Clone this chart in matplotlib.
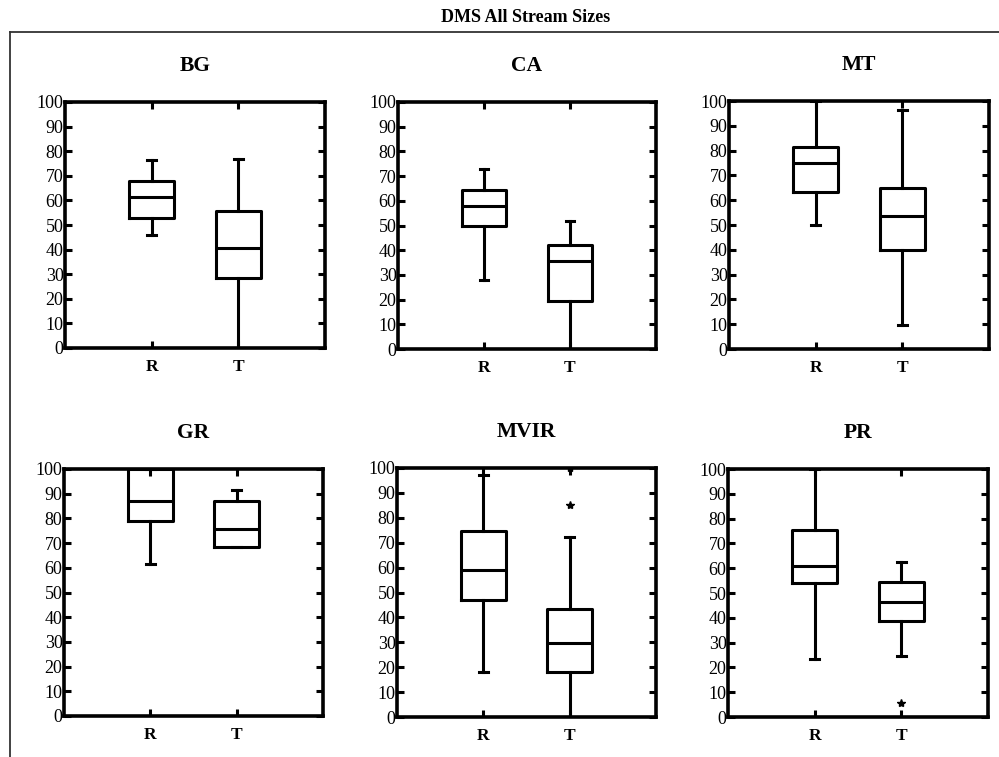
import matplotlib
matplotlib.use("Agg")
import matplotlib.pyplot as plt
from matplotlib.lines import Line2D

plt.rcParams['font.family'] = ['Liberation Serif', 'DejaVu Serif']

W, H = 999, 757

# data (percent)
sites = ['BG', 'CA', 'MT', 'GR', 'MVIR', 'PR']
groups = ['R', 'T']

# [whislo, q1, med, q3, whishi] for R and T
bg_stats = [[46, 53, 61.5, 68, 76.5], [0, 28.5, 40.7, 55.5, 77]]
ca_stats = [[28, 49.6, 57.8, 64.2, 72.8], [0, 19.3, 35.5, 42.2, 51.8]]
mt_stats = [[50, 63.2, 74.8, 81.5, 100], [9.5, 39.8, 53.5, 65, 96.2]]
gr_stats = [[61.5, 79, 87, 100, 100], [68.4, 68.6, 75.8, 87.2, 91.5]]
mvir_stats = [[18, 47, 59.2, 74.5, 97], [0, 18, 29.8, 43.4, 72.2]]
pr_stats = [[23.3, 54, 60.8, 75.3, 100], [24.5, 38.6, 46.5, 54.4, 62.5]]

mt_fliers = [[], [0]]
mvir_fliers = [[], [85, 100]]
pr_fliers = [[], [5.5]]
no_fliers = [[], []]

all_stats = [bg_stats, ca_stats, mt_stats, gr_stats, mvir_stats, pr_stats]
all_fliers = [no_fliers, no_fliers, mt_fliers, no_fliers, mvir_fliers, pr_fliers]
yticks = list(range(0, 101, 10))

# axes boxes in pixels: x0, x1, ytop, ybottom
boxes = [(65, 325, 102, 348), (398, 656, 102, 349), (729, 989, 101, 349),
         (64, 323, 469, 716), (397, 656, 468, 717), (728, 988, 469, 717)]

fig = plt.figure(figsize=(W / 100, H / 100), dpi=100)

fig.text(526 / W, 1 - 17 / H, 'DMS All Stream Sizes', ha='center', va='center',
         fontsize=13, fontweight='bold')

# outer frame (top and left only)
fig.add_artist(Line2D([10 / W, 1], [1 - 32 / H, 1 - 32 / H], color='#333333', lw=1.3))
fig.add_artist(Line2D([10 / W, 10 / W], [0, 1 - 32 / H], color='#333333', lw=1.3))

lw = 2.2
for name, st, fl, (x0, x1, yt, yb) in zip(sites, all_stats, all_fliers, boxes):
    ax = fig.add_axes([x0 / W, 1 - yb / H, (x1 - x0) / W, (yb - yt) / H])
    bxp = []
    for g, s, f in zip(groups, st, fl):
        bxp.append(dict(label=g, whislo=s[0], q1=s[1], med=s[2], q3=s[3],
                        whishi=s[4], fliers=f))
    ax.bxp(bxp, positions=[1, 2], widths=0.52, capwidths=0.1, showfliers=True,
           boxprops=dict(color='black', lw=lw),
           whiskerprops=dict(color='black', lw=lw),
           capprops=dict(color='black', lw=lw),
           medianprops=dict(color='black', lw=lw),
           flierprops=dict(marker='*', markersize=6, markerfacecolor='black',
                           markeredgecolor='black', zorder=3))
    ax.set_xlim(0, 3)
    ax.set_ylim(0, 100)
    ax.set_yticks(yticks)
    ax.set_xticks([1, 2])
    ax.set_xticklabels(groups, fontweight='bold', fontsize=12.5)
    ax.tick_params(axis='y', labelsize=13, pad=1)
    ax.tick_params(axis='x', pad=8)
    ax.tick_params(direction='in', length=5, width=2.2, top=True, right=True)
    for sp in ax.spines.values():
        sp.set_linewidth(2.6)
    ax.set_title(name, fontsize=15.5, fontweight='bold', pad=22)

fig.savefig('out.png', dpi=100)
